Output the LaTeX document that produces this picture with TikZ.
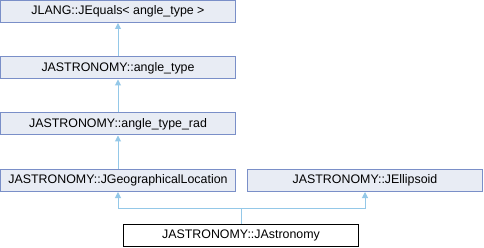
\documentclass[tikz,border=0pt]{standalone}
\usepackage{fontspec}
\setmainfont{Liberation Sans}
\usetikzlibrary{arrows.meta}
\definecolor{boxline}{HTML}{7A8FC8}
\definecolor{boxfill}{HTML}{E8ECF4}
\definecolor{edgecol}{HTML}{94C8E8}
\begin{document}
\begin{tikzpicture}[x=1pt,y=-1pt,
  cls/.style={draw=boxline,fill=boxfill,line width=1pt,minimum width=235pt,minimum height=22pt,inner sep=0pt,font=\fontsize{12.4}{14}\selectfont},
  cur/.style={cls,draw=black,fill=white},
  edge/.style={draw=edgecol,line width=1pt,-{Triangle[width=6pt,length=6pt]}}]
\useasboundingbox (0,0) rectangle (484,248);
\node[cls] (A) at (118,11.5) {JLANG::JEquals< angle\_type >};
\node[cls] (B) at (118,68) {JASTRONOMY::angle\_type};
\node[cls] (C) at (118,124) {JASTRONOMY::angle\_type\_rad};
\node[cls] (D) at (118,180.5) {JASTRONOMY::JGeographicalLocation};
\node[cls] (E) at (365,180.5) {JASTRONOMY::JEllipsoid};
\node[cur] (F) at (241,235.5) {JASTRONOMY::JAstronomy};
\coordinate (J) at (241,208);
\draw[edge] (B.north) -- (A.south);
\draw[edge] (C.north) -- (B.south);
\draw[edge] (D.north) -- (C.south);
\draw[edge] (F.north) -- (J) -| (D.south);
\draw[edge] (J) -| (E.south);
\end{tikzpicture}
\end{document}
